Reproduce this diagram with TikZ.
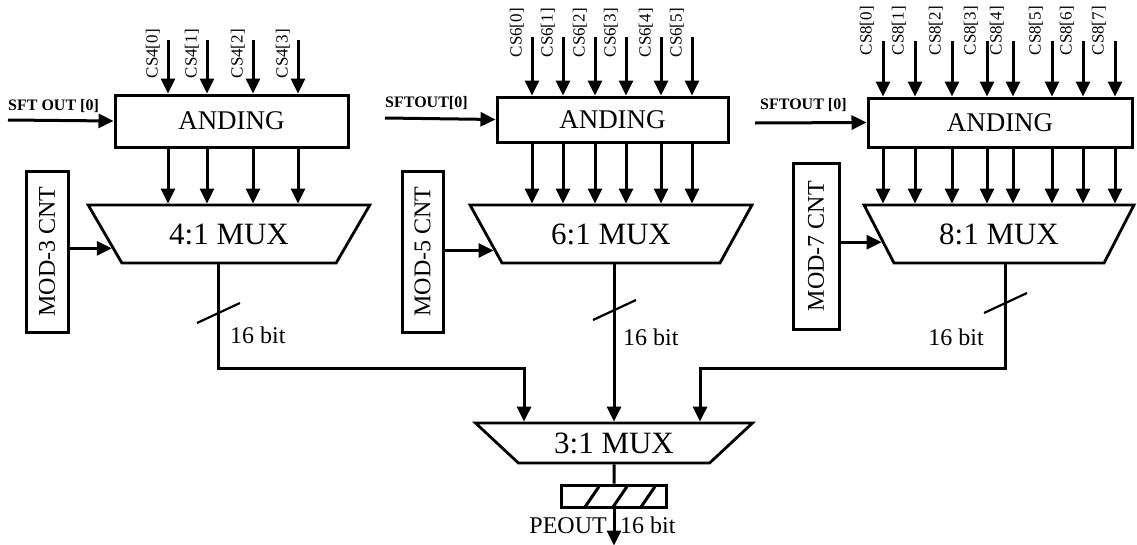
\documentclass[tikz,border=0pt]{standalone}
\usepackage{fontspec}
\setmainfont{Liberation Serif}
\usetikzlibrary{shapes.geometric,arrows.meta,calc}

\begin{document}
\begin{tikzpicture}[
    x=1pt, y=-1pt,
    andbox/.style={draw, line width=3pt, inner sep=0pt, font=\fontsize{27}{30}\selectfont},
    muxbox/.style={draw, trapezium, shape border rotate=180, trapezium stretches=true, line width=2.8pt, inner sep=0pt, font=\fontsize{31}{34}\selectfont},
    cntbox/.style={draw, rotate=90, line width=3pt, inner sep=0pt, font=\fontsize{24}{26}\selectfont},
    regbox/.style={draw, line width=3pt, inner sep=0pt},
    arr/.style={-{Triangle[length=15pt,width=14pt]}, line width=3pt},
    cs/.style={rotate=90, anchor=south east, inner sep=1pt, font=\fontsize{17}{19}\selectfont},
    sft/.style={anchor=south west, inner sep=0pt, font=\bfseries\fontsize{16}{18}\selectfont},
    bits/.style={inner sep=0pt, font=\fontsize{24}{26}\selectfont},
    slash/.style={line width=2.2pt}
]
  \useasboundingbox (0,0) rectangle (1137,544);

  % =========================================================================
  % BLOCO 1: 4:1 MUX
  % =========================================================================
  \node[andbox, minimum width=233pt, minimum height=52pt] (and1) at (231.5,121) {ANDING};
  \node[muxbox, trapezium left angle=48, trapezium right angle=48, minimum width=282pt, minimum height=58pt] (mux1) at (229,234) {4:1 MUX};
  \node[cntbox, minimum width=161pt, minimum height=42pt] (cnt1) at (47,251.5) {MOD-3 CNT};

  \coordinate (s1) at (8,120);
  \node[sft] at (8,113) {SFT OUT [0]};
  \draw[arr] (s1) -- (and1.west);

  \foreach \x [count=\i from 0] in {168,207,253,298} {
    \coordinate (c4-\i) at (\x,40);
    \node[cs] at (\x-7,28) {CS4[\i]};
    \draw[arr] (c4-\i) -- (and1.north -| c4-\i);
    \draw[arr] (and1.south -| c4-\i) -- (mux1.north -| c4-\i);
  }
  \draw[arr] (cnt1.south |- mux1.187) -- (mux1.187);

  % =========================================================================
  % BLOCO 2: 6:1 MUX
  % =========================================================================
  \node[andbox, minimum width=231pt, minimum height=45pt] (and2) at (612.5,119.5) {ANDING};
  \node[muxbox, trapezium left angle=50, trapezium right angle=50, minimum width=282pt, minimum height=58pt] (mux2) at (611,234) {6:1 MUX};
  \node[cntbox, minimum width=161pt, minimum height=41pt] (cnt2) at (422.5,251.5) {MOD-5 CNT};

  \coordinate (s2) at (385,118);
  \node[sft] at (385,110) {SFTOUT[0]};
  \draw[arr] (s2) -- (and2.west);

  \foreach \x [count=\i from 0] in {532,563,595,626,661,692} {
    \coordinate (c6-\i) at (\x,37);
    \node[cs] at (\x-7,7) {CS6[\i]};
    \draw[arr] (c6-\i) -- (and2.north -| c6-\i);
    \draw[arr] (and2.south -| c6-\i) -- (mux2.north -| c6-\i);
  }
  \draw[arr] (cnt2.south |- mux2.188) -- (mux2.188);

  % =========================================================================
  % BLOCO 3: 8:1 MUX
  % =========================================================================
  \node[andbox, minimum width=264pt, minimum height=49pt] (and3) at (1000,122.5) {ANDING};
  \node[muxbox, trapezium left angle=51, trapezium right angle=51, minimum width=270pt, minimum height=58pt] (mux3) at (999,234) {8:1 MUX};
  \node[cntbox, minimum width=166pt, minimum height=46pt] (cnt3) at (816,246) {MOD-7 CNT};

  \coordinate (s3) at (755,123);
  \node[sft] at (760,112) {SFTOUT [0]};
  \draw[arr] (s3) -- (and3.west);

  \foreach \x [count=\i from 0] in {883,915,952,987,1013,1052,1083,1115} {
    \coordinate (c8-\i) at (\x,41);
    \node[cs] at (\x-8,5) {CS8[\i]};
    \draw[arr] (c8-\i) -- (and3.north -| c8-\i);
    \draw[arr] (and3.south -| c8-\i) -- (mux3.north -| c8-\i);
  }
  \draw[arr] (cnt3.south |- mux3.184) -- (mux3.184);

  % =========================================================================
  % 3:1 MUX E SAIDA
  % =========================================================================
  \node[muxbox, trapezium left angle=38, trapezium right angle=38, minimum width=277pt, minimum height=40pt] (mux4) at (614,443) {3:1 MUX};
  \coordinate (in4a) at ($(mux4.north)+(-90,0)$);
  \coordinate (in4b) at (mux4.north);
  \coordinate (in4c) at ($(mux4.north)+(86,0)$);

  % barramentos de 16 bit
  \coordinate (o1) at ($(mux1.south)+(-11,0)$);
  \coordinate (o3) at ($(mux3.south)+(6,0)$);
  \draw[arr] (o1) -- (o1 |- 0,368) -| (in4a);
  \draw[arr] (mux2.south -| in4b) -- (in4b);
  \draw[arr] (o3) -- (o3 |- 0,368) -| (in4c);

  \coordinate (b1) at (o1 |- 0,313);
  \coordinate (b2) at (in4b |- 0,310);
  \coordinate (b3) at (o3 |- 0,303);
  \foreach \b in {b1,b2,b3}
    \draw[slash] ($(\b)+(-21,10)$) -- ($(\b)+(22,-10)$);
  \node[bits, anchor=west] at ($(b1)+(12,22)$) {16 bit};
  \node[bits, anchor=west] at ($(b2)+(9,27)$) {16 bit};
  \node[bits, anchor=east] at ($(b3)+(-21,34)$) {16 bit};

  % registrador de saida
  \node[regbox, minimum width=105pt, minimum height=22pt] (reg) at (614,496) {};
  \begin{scope}
    \clip (reg.south west) rectangle (reg.north east);
    \foreach \d in {-30,-2,26}
      \draw[line width=3pt] ($(reg.south)+(\d,0)$) -- ++(15,-22);
  \end{scope}
  \draw[line width=3pt] (mux4.south) -- (reg.north);
  \coordinate (pe) at ($(reg.south)+(0,37)$);
  \draw[arr] (reg.south) -- (pe);
  \node[bits, anchor=east] at ($(reg.south)+(-7,17)$) {PEOUT};
  \node[bits, anchor=west] at ($(reg.south)+(6,17)$) {16 bit};

\end{tikzpicture}
\end{document}
